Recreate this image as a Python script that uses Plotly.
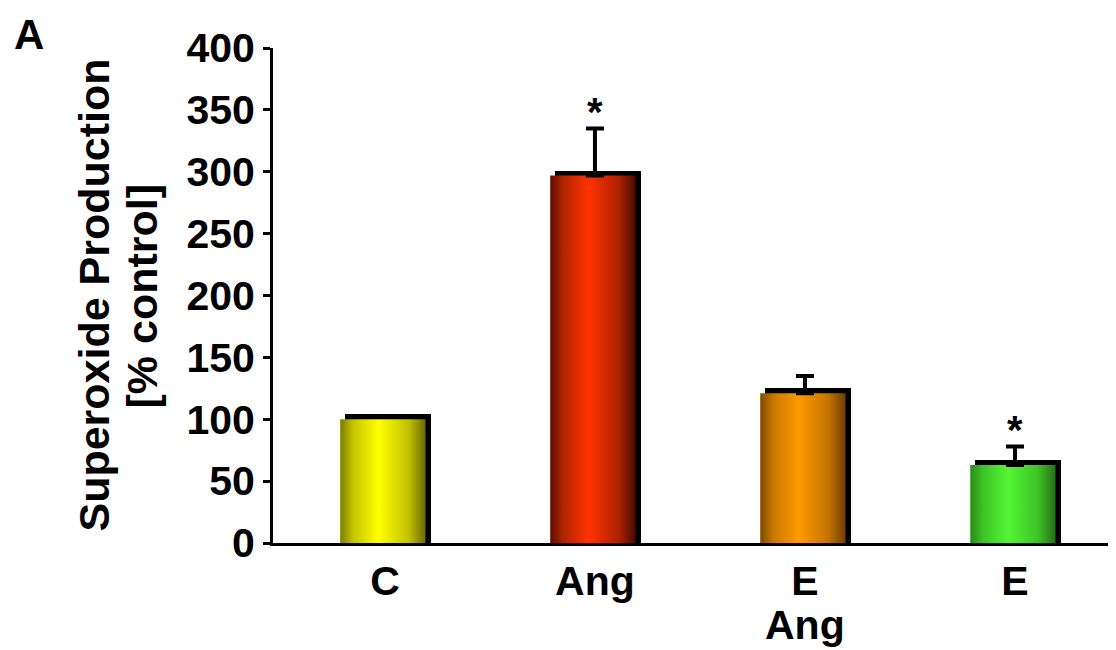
import plotly.graph_objects as go

# ---- data ----
categories = ["C", "Ang", "E", "E"]
second_line = ["", "", "Ang", ""]
values = [100, 297, 121, 63]
errors = [0, 38, 14, 15]
significant = [False, True, False, True]
palettes = [
    [[0, "#7c7c00"], [0.15, "#c4c400"], [0.45, "#ffff00"], [0.8, "#c2c200"], [1, "#6c6c00"]],
    [[0, "#5c0e00"], [0.15, "#b02400"], [0.45, "#ff3300"], [0.8, "#b02200"], [1, "#4a0a00"]],
    [[0, "#7e4a00"], [0.15, "#c87800"], [0.45, "#ff9900"], [0.8, "#c47400"], [1, "#6e4000"]],
    [[0, "#2a8a1a"], [0.15, "#3cc426"], [0.45, "#55f533"], [0.8, "#3cc026"], [1, "#247018"]],
]

FONT = "Liberation Sans, Arial, sans-serif"
half_w = 0.203          # half bar width (category units)
front_shift = -0.01
shadow_dx = 0.024       # drop-shadow offset (category units)
shadow_dy = 4           # drop-shadow offset (value units)

idx = list(range(len(categories)))
fig = go.Figure()

# black drop-shadow bars
fig.add_trace(go.Bar(
    x=idx, y=[v + shadow_dy for v in values],
    width=2 * half_w, offset=-half_w + front_shift + shadow_dx,
    marker=dict(color="black", line=dict(width=0)),
    hoverinfo="skip", showlegend=False,
))

# gradient-filled front bars
for i, v, cs in zip(idx, values, palettes):
    x0, x1 = i - half_w + front_shift, i + half_w + front_shift
    fig.add_trace(go.Scatter(
        x=[x0, x1, x1, x0, x0], y=[0, 0, v, v, 0],
        mode="lines", fill="toself", line=dict(width=0),
        fillgradient=dict(type="horizontal", colorscale=cs),
        hoverinfo="skip", showlegend=False,
    ))

# error bars (upper only)
ex = [i for i in idx if errors[i] > 0]
fig.add_trace(go.Scatter(
    x=ex, y=[values[i] for i in ex], mode="markers",
    marker=dict(size=0.1, color="rgba(0,0,0,0)"),
    error_y=dict(type="data", array=[errors[i] for i in ex],
                 arrayminus=[0] * len(ex), symmetric=False,
                 color="black", thickness=4, width=9),
    hoverinfo="skip", showlegend=False,
))

annotations = []
for i in idx:
    if significant[i]:
        annotations.append(dict(
            x=i, y=values[i] + errors[i], xref="x", yref="y",
            text="*", showarrow=False, yanchor="bottom", yshift=-8,
            font=dict(family=FONT, size=40, color="black", weight="bold"),
        ))
    if second_line[i]:
        annotations.append(dict(
            x=i, y=0, xref="x", yref="y", text=second_line[i],
            showarrow=False, yanchor="top", yshift=-57,
            font=dict(family=FONT, size=41, color="black", weight="bold"),
        ))

annotations += [
    dict(x=-0.2135, y=0.5, xref="paper", yref="paper", text="Superoxide Production",
         textangle=-90, showarrow=False, xanchor="center", yanchor="middle",
         font=dict(family=FONT, size=43, color="black", weight="bold")),
    dict(x=-0.1554, y=0.5, xref="paper", yref="paper", text="[% control]",
         textangle=-90, showarrow=False, xanchor="center", yanchor="middle",
         font=dict(family=FONT, size=43, color="black", weight="bold")),
    dict(x=-0.3096, y=1.079, xref="paper", yref="paper", text="A",
         showarrow=False, xanchor="left", yanchor="top",
         font=dict(family=FONT, size=42, color="black", weight="bold")),
]

fig.update_layout(
    width=1116, height=650,
    margin=dict(l=265, r=8, t=40, b=115),
    paper_bgcolor="white", plot_bgcolor="white",
    showlegend=False, bargap=0,
    annotations=annotations,
    xaxis=dict(
        range=[-0.533, 3.481], tickmode="array", tickvals=idx, ticktext=categories,
        showgrid=False, zeroline=False, showline=True, linecolor="black", linewidth=3,
        ticks="", tickfont=dict(family=FONT, size=41, color="black", weight="bold"),
        fixedrange=True,
    ),
    yaxis=dict(
        range=[0, 400], tickmode="array", tickvals=[0, 50, 100, 150, 200, 250, 300, 350, 400],
        showgrid=False, zeroline=False, showline=True, linecolor="black", linewidth=3,
        ticks="outside", ticklen=7, tickwidth=3, tickcolor="black",
        tickfont=dict(family=FONT, size=41, color="black", weight="bold"),
        fixedrange=True,
    ),
)

fig.write_html("out.html")
